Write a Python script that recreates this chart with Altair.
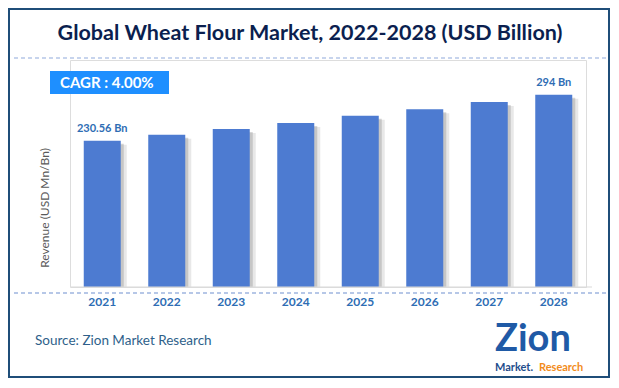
import altair as alt
import pandas as pd

years = ["2021", "2022", "2023", "2024", "2025", "2026", "2027", "2028"]
revenue = [230.56, 239.0, 247.0, 255.0, 265.0, 274.0, 284.0, 294.0]
value_labels = ["230.56 Bn", "", "", "", "", "", "", "294 Bn"]

df = pd.DataFrame({"year": years, "revenue": revenue, "label": value_labels})

FONT = "Lato"
BLUE_TXT = "#2e6db4"
Y_MIN, Y_MAX = 29, 342

x = alt.X("year:N", axis=None, scale=alt.Scale(paddingInner=0.42, paddingOuter=0.21))
y = alt.Y("revenue:Q", axis=None, scale=alt.Scale(domain=[Y_MIN, Y_MAX], nice=False, zero=False))

base = alt.Chart(df)

shadow1 = base.mark_bar(size=37, color="#707070", opacity=0.28, xOffset=3, yOffset=3).encode(
    x=x, y=y, y2=alt.datum(Y_MIN))
shadow2 = base.mark_bar(size=37, color="#808080", opacity=0.18, xOffset=6, yOffset=4).encode(
    x=x, y=y, y2=alt.datum(Y_MIN))
bars = base.mark_bar(size=37, color="#4d7bd1").encode(x=x, y=y, y2=alt.datum(Y_MIN))

vlabels = base.mark_text(font=FONT, fontWeight="bold", fontSize=11, color=BLUE_TXT, dy=-12).encode(
    x=x, y=y, text="label:N")

year_text = base.mark_text(font=FONT, fontWeight="bold", fontSize=12, color=BLUE_TXT,
                           baseline="middle").encode(x=x, y=alt.value(242), text="year:N")

one = pd.DataFrame({"t": [
    "Global Wheat Flour Market, 2022-2028 (USD Billion)"]})
oc = alt.Chart(one)

border = oc.mark_rect(fill=None, stroke="#1f4e79", strokeWidth=2).encode(
    x=alt.value(-61), x2=alt.value(539), y=alt.value(-51), y2=alt.value(317))

title = oc.mark_text(font=FONT, fontWeight="bold", fontSize=21.5, color="#0b1f4f",
                     align="center", baseline="middle").encode(
    x=alt.value(240), y=alt.value(-26), text="t:N")

dash_top = oc.mark_rule(color="#8faadc", strokeDash=[4, 3], strokeWidth=1.2).encode(
    x=alt.value(-56), x2=alt.value(536), y=alt.value(-2))
dash_bot = oc.mark_rule(color="#6f8fcf", strokeDash=[4, 3], strokeWidth=1.2).encode(
    x=alt.value(-56), x2=alt.value(536), y=alt.value(233))
axis_line = oc.mark_rule(color="#d9d9d9", strokeWidth=1.2).encode(
    x=alt.value(1), x2=alt.value(522), y=alt.value(227))

cagr_box = oc.mark_rect(fill="#1e8fff").encode(
    x=alt.value(-20), x2=alt.value(99), y=alt.value(11), y2=alt.value(34))
cagr_text = oc.mark_text(font=FONT, fontWeight="bold", fontSize=15, color="white",
                         align="left", baseline="middle").encode(
    x=alt.value(-10), y=alt.value(23), text=alt.value("CAGR :  4.00%"))

ytitle = oc.mark_text(font=FONT, fontSize=12, color="#595959", angle=270,
                      align="center", baseline="middle").encode(
    x=alt.value(-25), y=alt.value(148), text=alt.value("Revenue (USD Mn/Bn)"))

source = oc.mark_text(font=FONT, fontSize=13.5, color="#2e5f8a", align="left",
                      baseline="middle").encode(
    x=alt.value(-35), y=alt.value(281), text=alt.value("Source: Zion Market Research"))

logo_zion = oc.mark_text(font=FONT, fontWeight="bold", fontSize=38, color="#1f5aa6",
                         align="left", baseline="middle").encode(
    x=alt.value(425), y=alt.value(280), text=alt.value("Zion"))
logo_market = oc.mark_text(font=FONT, fontWeight="bold", fontSize=11, color="#1f4e8c",
                           align="left", baseline="middle").encode(
    x=alt.value(425), y=alt.value(308), text=alt.value("Market."))
logo_research = oc.mark_text(font=FONT, fontWeight="bold", fontSize=11, color="#f28c1b",
                             align="left", baseline="middle").encode(
    x=alt.value(469), y=alt.value(308), text=alt.value("Research"))

chart = alt.layer(
    border, title, dash_top, cagr_box, cagr_text, ytitle,
    shadow2, shadow1, bars, vlabels, axis_line, dash_bot, year_text,
    source, logo_zion, logo_market, logo_research,
).properties(
    width=516, height=227,
    padding={"left": 62, "top": 52, "right": 25, "bottom": 91},
    autosize=alt.AutoSizeParams(type="none"),
).configure_view(stroke=None).configure(background="white")

chart.save("out.html", embed_options={"renderer": "svg", "actions": False})
